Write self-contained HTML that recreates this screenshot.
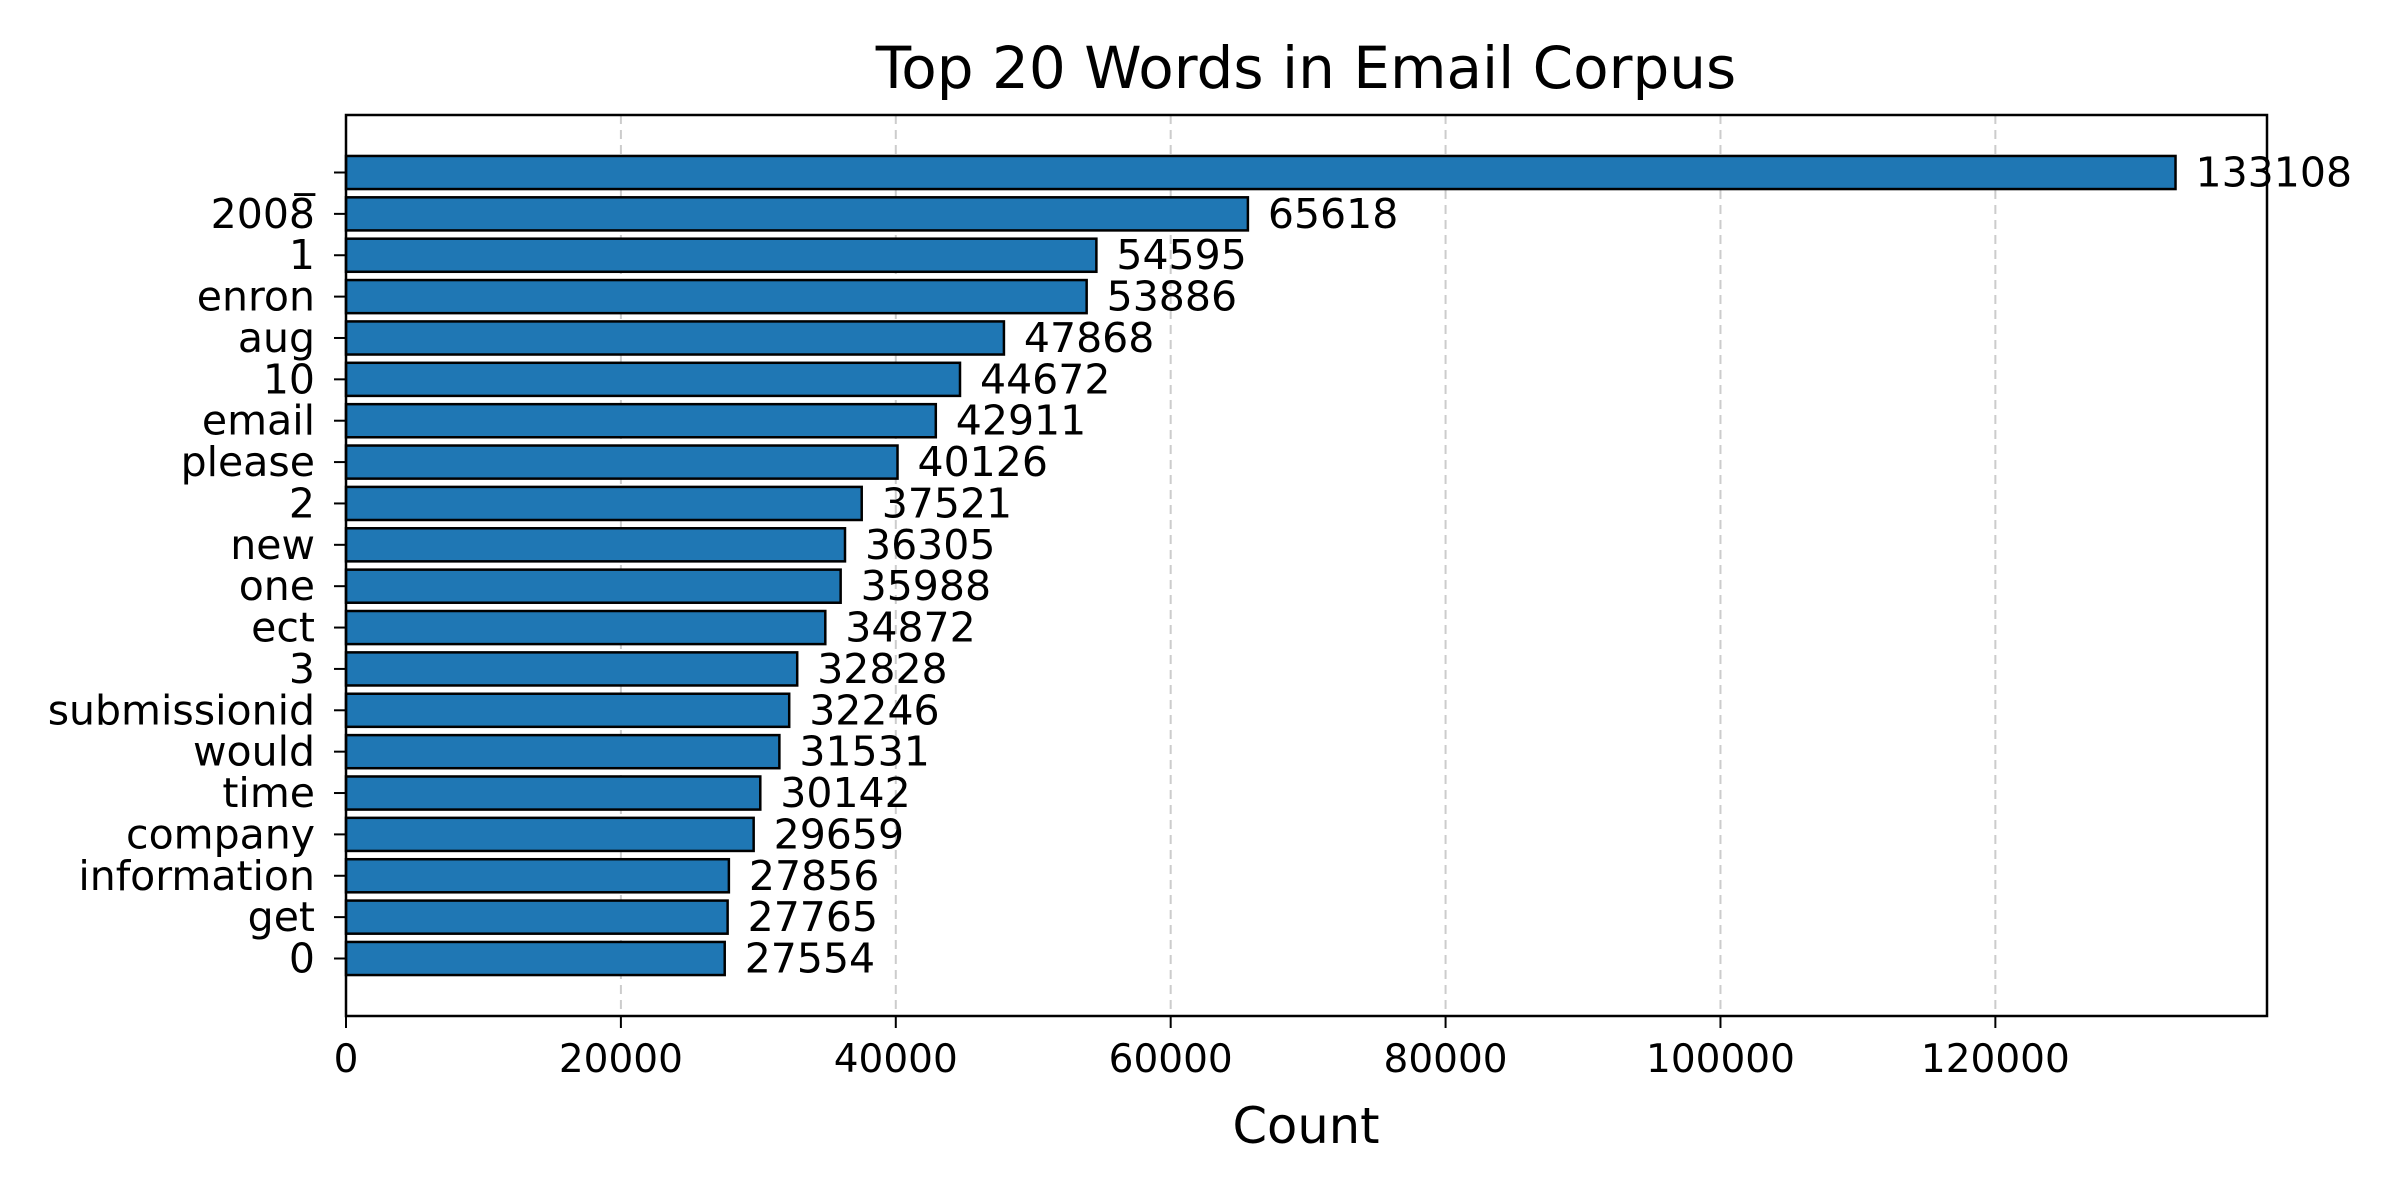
<!DOCTYPE html>
<html><head><meta charset="utf-8"><style>
html,body{margin:0;padding:0;background:#fff;}
svg{display:block;font-family:"DejaVu Sans","Liberation Sans",sans-serif;}
</style></head><body>
<svg id="chart" width="2400" height="1200" viewBox="0 0 2400 1200">
<rect width="2400" height="1200" fill="#fff"/>
<text x="1306" y="88" font-size="58" text-anchor="middle">Top 20 Words in Email Corpus</text>
<g id="grid"></g><g id="bars"></g><g id="labels"></g><g id="xticks"></g><g id="yticks"></g>
<rect x="346" y="115" width="1921" height="901" fill="none" stroke="#000" stroke-width="2.5"/>
<text x="1306" y="1143" font-size="49.5" text-anchor="middle">Count</text>
</svg>
<script>
const words = ["_","2008","1","enron","aug","10","email","please","2","new","one","ect","3","submissionid","would","time","company","information","get","0"];
const counts = [133108,65618,54595,53886,47868,44672,42911,40126,37521,36305,35988,34872,32828,32246,31531,30142,29659,27856,27765,27554];
const xTickValues = [0,20000,40000,60000,80000,100000,120000];
const NS="http://www.w3.org/2000/svg";
const L=346,R=2267,T=115,B=1016;
const xmax=Math.max(...counts)*1.05;
const n=words.length;
const ylo=-0.4-(n-1+0.8)*0.05, yhi=n-1+0.4+(n-1+0.8)*0.05;
function xs(v){return L+(v/xmax)*(R-L);}
function ys(i){return T+(i-ylo)/(yhi-ylo)*(B-T);}
function mk(tag,attrs,parent){const e=document.createElementNS(NS,tag);for(const k in attrs)e.setAttribute(k,attrs[k]);document.getElementById(parent).appendChild(e);return e;}
xTickValues.forEach(v=>{
  const x=xs(v);
  if(v>0){const g=mk('line',{x1:x,x2:x,y1:T,y2:B,stroke:'#ccc','stroke-width':2,'stroke-dasharray':'9,6'},'grid');
  
  }
  const t=mk('line',{x1:x,x2:x,y1:B,y2:B+12,stroke:'#000','stroke-width':2},'xticks');
  
  
  const lb=mk('text',{x:x,y:B+56,'font-size':39,'text-anchor':'middle'},'xticks');
  lb.textContent=String(v);
  
  
});
const bh=0.8*(B-T)/(yhi-ylo);
words.forEach((w,i)=>{
  const y=ys(i);
  const r=mk('rect',{x:L,y:y-bh/2,width:xs(counts[i])-L,height:bh,fill:'#1f77b4',stroke:'#000','stroke-width':2.5},'bars');
  
  
  const v=mk('text',{x:xs(counts[i])+20,y:y+14,'font-size':41},'labels');
  v.textContent=String(counts[i]);
  
  
  const t=mk('line',{x1:L-12,x2:L,y1:y,y2:y,stroke:'#000','stroke-width':2},'yticks');
  
  
  const lb=mk('text',{x:L-31,y:y+14,'font-size':41,'text-anchor':'end'},'yticks');
  lb.textContent=w;
  
  
});
</script>
</body></html>
